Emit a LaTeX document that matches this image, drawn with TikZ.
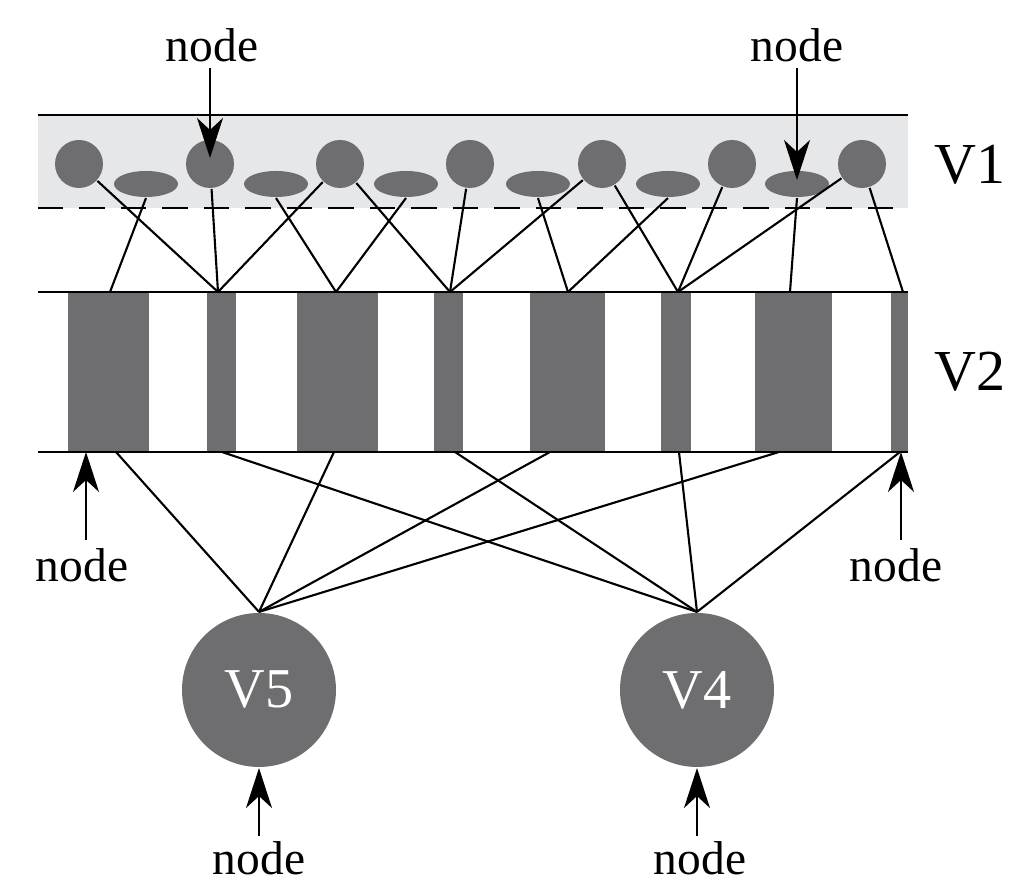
\documentclass[tikz,border=0pt]{standalone}
\usepackage{fontspec}
\setmainfont{Liberation Serif}
\usetikzlibrary{arrows.meta,shapes.geometric}
\definecolor{dkgray}{HTML}{6E6E70}
\definecolor{ltgray}{HTML}{E6E7E8}
\begin{document}
\begin{tikzpicture}[x=0.01cm,y=-0.01cm,>={Stealth[length=4mm,width=2.6mm,inset=1.2mm]}]
    \tikzstyle{every path} = [line width=0.6pt];
    \tikzstyle{cell} = [circle,fill=dkgray,minimum size=48*0.01cm,inner sep=0pt];
    \tikzstyle{blob} = [ellipse,fill=dkgray,minimum width=64*0.01cm,minimum height=26*0.01cm,inner sep=0pt];
    \tikzstyle{big} = [circle,fill=dkgray,minimum size=154*0.01cm,inner sep=0pt,text=white,font=\fontsize{16}{16}\selectfont];
    \tikzstyle{lbl} = [font=\fontsize{13.5}{14}\selectfont,inner sep=0pt];
    \tikzstyle{area} = [font=\fontsize{16.5}{17}\selectfont,inner sep=0pt];

    \useasboundingbox (0,0) rectangle (1029,883);

    % V1 band
    \fill[ltgray] (38,115) rectangle (908,208);
    \draw (38,115) -- (908,115);
    \draw[dash pattern=on 7.2pt off 4.6pt] (38,208) -- (908,208);
    \foreach \i/\x in {1/79,2/210,3/340,4/470,5/602,6/732,7/862}
        \node[cell] (c\i) at (\x,164) {};
    \foreach \i/\x in {1/146,2/276,3/406,4/538,5/668,6/797}
        \node[blob] (e\i) at (\x,184) {};

    % V2 band
    \foreach \a/\b in {68/149,207/236,297/378,434/463,530/605,661/691,755/832,891/908}
        \fill[dkgray] (\a,292) rectangle (\b,452);
    \draw (38,292) -- (908,292);
    \draw (38,452) -- (908,452);
    \foreach \i/\x in {1/110,2/218,3/336,4/450,5/568,6/678,7/790,8/903}
        \coordinate (t\i) at (\x,292);
    \foreach \i/\x in {1/116,2/222,3/334,4/455,5/550,6/679,7/779,8/900}
        \coordinate (b\i) at (\x,452);

    % V1 -> V2
    \draw (c1) -- (t2);
    \draw (e1.south) -- (t1);
    \draw (c2) -- (t2);
    \draw (c3) -- (t2);
    \draw (e2.south) -- (t3);
    \draw (e3.south) -- (t3);
    \draw (c3) -- (t4);
    \draw (c4) -- (t4);
    \draw (c5) -- (t4);
    \draw (e4.south) -- (t5);
    \draw (e5.south) -- (t5);
    \draw (c5) -- (t6);
    \draw (c6) -- (t6);
    \draw (c7) -- (t6);
    \draw (e6.south) -- (t7);
    \draw (c7) -- (t8);

    % V2 -> V5, V4
    \node[big] (v5) at (259,690) {V5};
    \node[big] (v4) at (697,690) {V4};
    \foreach \i in {1,3,5,7}
        \draw (b\i) -- (v5.north);
    \foreach \i in {2,4,6,8}
        \draw (b\i) -- (v4.north);

    % labels
    \node[area] (v1l) at (970,165) {V1};
    \node[area] (v2l) at (970,372) {V2};

    \node[lbl] (n1) at (212,45) {node};
    \node[lbl] (n2) at (797,45) {node};
    \node[lbl] (n3) at (82,565) {node};
    \node[lbl] (n4) at (896,565) {node};
    \node[lbl] (n5) at (259,858) {node};
    \node[lbl] (n6) at (700,858) {node};

    \coordinate (p1) at (210,158);
    \coordinate (p2) at (797,180);
    \draw[->] (210,68) coordinate (q1) -- (p1);
    \draw[->] (797,68) coordinate (q2) -- (p2);
    \draw[->] (86,540) coordinate (q3) -- (86,452);
    \draw[->] (901,540) coordinate (q4) -- (901,452);
    \draw[->] (259,836) coordinate (q5) -- (v5.south);
    \draw[->] (697,836) coordinate (q6) -- (v4.south);
\end{tikzpicture}
\end{document}
